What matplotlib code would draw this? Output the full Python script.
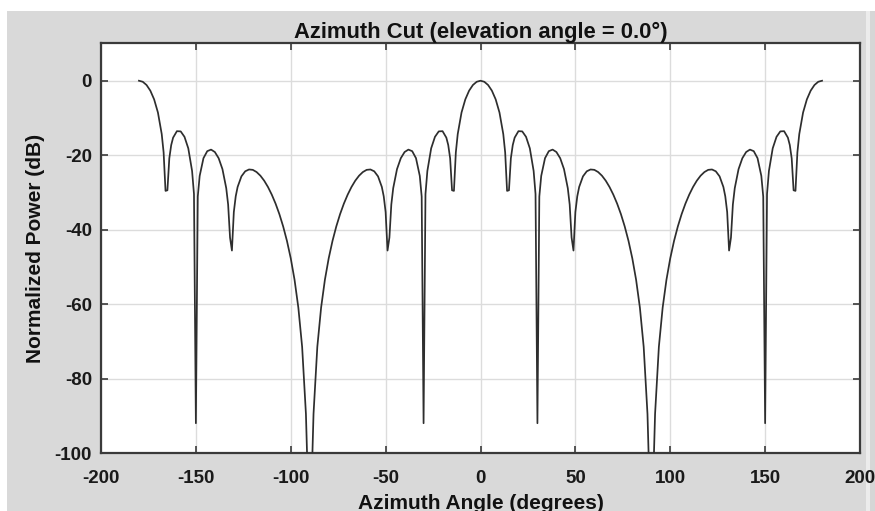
import matplotlib
matplotlib.use("Agg")
import matplotlib.pyplot as plt
from matplotlib.patches import Rectangle

# Azimuth angles (degrees) and normalized power (dB)
azimuth_deg = [
    -180, -178, -176, -174, -172, -170, -168, -167, -166, -165, -164, -163, -162,
    -160, -158, -156, -154, -152, -151, -150, -149, -148, -146, -144, -142, -140,
    -138, -136, -134, -133, -132, -131, -130, -129, -128, -126, -124, -122, -120,
    -118, -116, -114, -112, -110, -108, -106, -104, -102, -100, -98, -96, -94,
    -92, -91, -90, -89, -88, -86, -84, -82, -80, -78, -76, -74, -72, -70, -68,
    -66, -64, -62, -60, -58, -56, -54, -52, -51, -50, -49, -48, -47, -46, -44,
    -42, -40, -38, -36, -34, -32, -31, -30, -29, -28, -26, -24, -22, -20, -18,
    -17, -16, -15, -14, -13, -12, -10, -8, -6, -4, -2,
    0, 2, 4, 6, 8, 10, 12, 13, 14, 15, 16, 17, 18, 20, 22, 24, 26, 28, 29, 30,
    31, 32, 34, 36, 38, 40, 42, 44, 46, 47, 48, 49, 50, 51, 52, 54, 56, 58, 60,
    62, 64, 66, 68, 70, 72, 74, 76, 78, 80, 82, 84, 86, 88, 89, 90, 91, 92, 94,
    96, 98, 100, 102, 104, 106, 108, 110, 112, 114, 116, 118, 120, 122, 124,
    126, 128, 129, 130, 131, 132, 133, 134, 136, 138, 140, 142, 144, 146, 148,
    149, 150, 151, 152, 154, 156, 158, 160, 162, 163, 164, 165, 166, 167, 168,
    170, 172, 174, 176, 178, 180,
]

power_db = [
    0.0, -0.28, -1.15, -2.67, -5.01, -8.54, -14.32, -19.26, -29.59, -29.43,
    -20.85, -17.28, -15.29, -13.55, -13.61, -15.07, -18.16, -24.23, -30.44,
    -92.0, -31.11, -25.57, -20.80, -18.92, -18.50, -19.15, -20.81, -23.74,
    -28.85, -33.25, -42.12, -45.62, -35.27, -31.05, -28.53, -25.69, -24.33,
    -23.84, -23.94, -24.53, -25.51, -26.85, -28.55, -30.60, -33.01, -35.83,
    -39.14, -43.03, -47.70, -53.46, -60.94, -71.49, -89.52, -107.6, -150.0,
    -107.6, -89.52, -71.49, -60.94, -53.46, -47.70, -43.03, -39.14, -35.83,
    -33.01, -30.60, -28.55, -26.85, -25.51, -24.53, -23.94, -23.84, -24.33,
    -25.69, -28.53, -31.05, -35.27, -45.62, -42.12, -33.25, -28.85, -23.74,
    -20.81, -19.15, -18.50, -18.92, -20.80, -25.57, -31.11, -92.0, -30.44,
    -24.23, -18.16, -15.07, -13.61, -13.55, -15.29, -17.28, -20.85, -29.43,
    -29.59, -19.26, -14.32, -8.54, -5.01, -2.67, -1.15, -0.28,
    0.0, -0.28, -1.15, -2.67, -5.01, -8.54, -14.32, -19.26, -29.59, -29.43,
    -20.85, -17.28, -15.29, -13.55, -13.61, -15.07, -18.16, -24.23, -30.44,
    -92.0, -31.11, -25.57, -20.80, -18.92, -18.50, -19.15, -20.81, -23.74,
    -28.85, -33.25, -42.12, -45.62, -35.27, -31.05, -28.53, -25.69, -24.33,
    -23.84, -23.94, -24.53, -25.51, -26.85, -28.55, -30.60, -33.01, -35.83,
    -39.14, -43.03, -47.70, -53.46, -60.94, -71.49, -89.52, -107.6, -150.0,
    -107.6, -89.52, -71.49, -60.94, -53.46, -47.70, -43.03, -39.14, -35.83,
    -33.01, -30.60, -28.55, -26.85, -25.51, -24.53, -23.94, -23.84, -24.33,
    -25.69, -28.53, -31.05, -35.27, -45.62, -42.12, -33.25, -28.85, -23.74,
    -20.81, -19.15, -18.50, -18.92, -20.80, -25.57, -31.11, -92.0, -30.44,
    -24.23, -18.16, -15.07, -13.61, -13.55, -15.29, -17.28, -20.85, -29.43,
    -29.59, -19.26, -14.32, -8.54, -5.01, -2.67, -1.15, -0.28, 0.0,
]

x_ticks = [-200, -150, -100, -50, 0, 50, 100, 150, 200]
y_ticks = [-100, -80, -60, -40, -20, 0]

title_text = "Azimuth Cut (elevation angle = 0.0°)"
x_label = "Azimuth Angle (degrees)"
y_label = "Normalized Power (dB)"

plt.rcParams['font.family'] = ['Liberation Sans', 'DejaVu Sans']
plt.rcParams['axes.unicode_minus'] = False

W, H = 875, 511
fig = plt.figure(figsize=(W / 100, H / 100), dpi=100, facecolor='white')

# grey figure panel (scanned MATLAB figure look)
fig.patches.append(Rectangle((7 / W, 0), (866 - 7) / W, (H - 11) / H,
                             transform=fig.transFigure, facecolor='#d9d9d9',
                             edgecolor='none', zorder=-2))
fig.patches.append(Rectangle((866 / W, 0), 4 / W, (H - 11) / H,
                             transform=fig.transFigure, facecolor='#ececec',
                             edgecolor='none', zorder=-2))
fig.patches.append(Rectangle((870 / W, 0), 5 / W, (H - 11) / H,
                             transform=fig.transFigure, facecolor='#d6d6d6',
                             edgecolor='none', zorder=-2))

left, right, top, bottom = 101, 860, 43.5, 453
ax = fig.add_axes([left / W, (H - bottom) / H, (right - left) / W, (bottom - top) / H])
ax.set_facecolor('white')

ax.plot(azimuth_deg, power_db, color='#2e2e2e', linewidth=1.25, zorder=3)

ax.set_xlim(-200, 200)
ax.set_ylim(-100, 10)
ax.set_xticks(x_ticks)
ax.set_yticks(y_ticks)
ax.grid(True, color='#dcdcdc', linewidth=1.0)
ax.set_axisbelow(True)

for s in ax.spines.values():
    s.set_color('#3a3a3a')
    s.set_linewidth(1.6)

ax.tick_params(direction='in', length=5, width=1.2, color='#3a3a3a',
               top=True, right=True, labelsize=13.5, labelcolor='#1a1a1a')
ax.tick_params(axis='x', pad=12)
ax.tick_params(axis='y', pad=6.5)
for lab in ax.get_xticklabels() + ax.get_yticklabels():
    lab.set_fontweight('bold')

ax.set_title(title_text, fontsize=15.8, fontweight='bold', color='#111111', pad=4)
ax.set_xlabel(x_label, fontsize=15, fontweight='bold', color='#111111', labelpad=5)
ax.set_ylabel(y_label, fontsize=15, fontweight='bold', color='#111111', labelpad=7)

fig.savefig('out.png', dpi=100, facecolor=fig.get_facecolor())
